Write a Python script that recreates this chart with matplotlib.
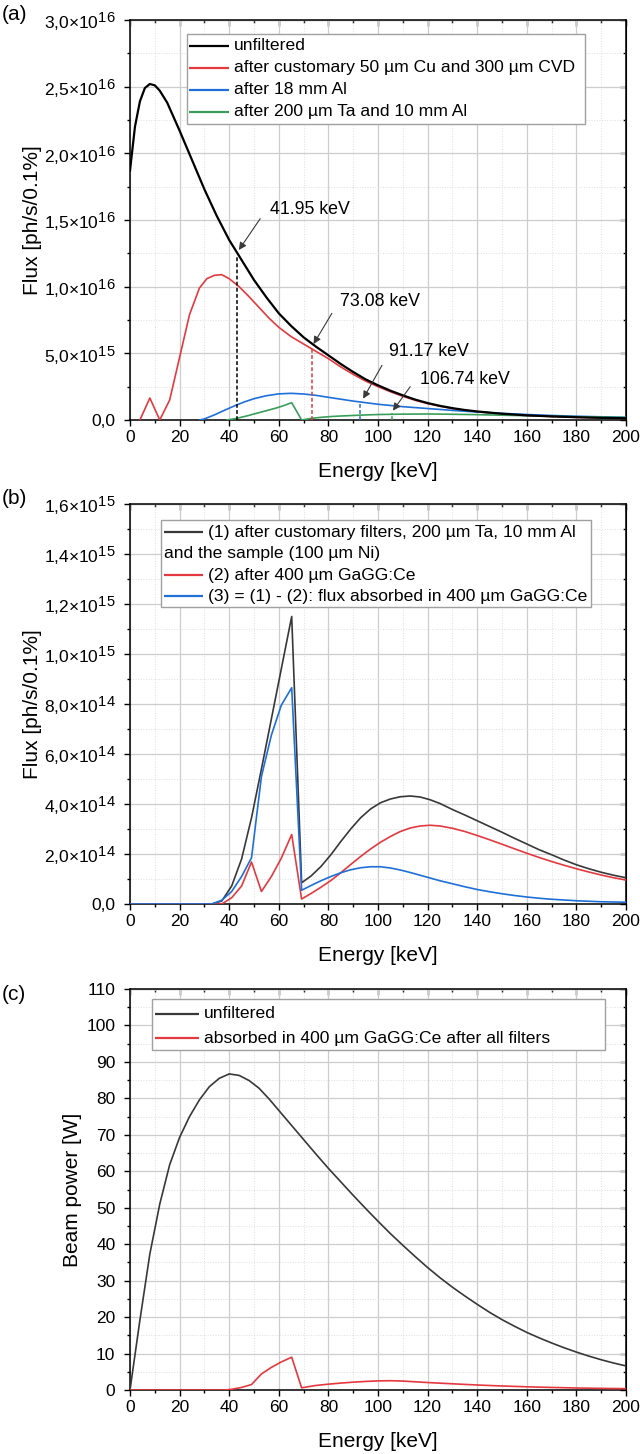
import numpy as np
import matplotlib
matplotlib.use('Agg')
import matplotlib.pyplot as plt
import matplotlib._mathtext as mtext
from matplotlib.ticker import MultipleLocator, FuncFormatter
from matplotlib.patches import Rectangle

plt.rcParams['font.family'] = ['Liberation Sans', 'DejaVu Sans']
plt.rcParams['mathtext.fontset'] = 'custom'
plt.rcParams['mathtext.rm'] = 'Liberation Sans'
plt.rcParams['mathtext.it'] = 'Liberation Sans:italic'
plt.rcParams['mathtext.bf'] = 'Liberation Sans:bold'
# exponents in the reference are drawn nearly at full size
mtext.SHRINK_FACTOR = 0.85

# ---------------- data (a) ----------------
e_unf_a = [0, 2, 4, 6, 8, 10, 12, 15, 20, 25, 30, 35, 40, 45, 50, 55, 60, 65, 70, 75, 80, 85,
           90, 95, 100, 105, 110, 115, 120, 125, 130, 135, 140, 150, 160, 170, 180, 190, 200]
f_unf_a = [18.7, 22.0, 23.9, 24.9, 25.2, 25.1, 24.7, 23.8, 21.7, 19.5, 17.3, 15.3, 13.5, 12.0,
           10.5, 9.2, 8.0, 7.05, 6.2, 5.5, 4.85, 4.2, 3.6, 3.05, 2.6, 2.2, 1.85, 1.53, 1.27,
           1.06, 0.89, 0.75, 0.64, 0.47, 0.35, 0.27, 0.21, 0.16, 0.13]

e_cu_a = [4, 8, 12, 16, 20, 24, 28, 31, 34, 37, 40, 44, 48, 52, 56, 60, 65, 70, 75, 80, 85, 90,
          95, 100, 105, 110, 115, 120, 125, 130, 135, 140, 150, 160, 170, 180, 190, 200]
f_cu_a = [0, 1.65, 0, 1.5, 4.7, 7.9, 9.9, 10.6, 10.85, 10.9, 10.6, 10.0, 9.25, 8.45, 7.65, 6.95,
          6.25, 5.7, 5.15, 4.6, 3.98, 3.42, 2.92, 2.5, 2.12, 1.78, 1.48, 1.23, 1.03, 0.86, 0.73,
          0.62, 0.45, 0.34, 0.26, 0.2, 0.16, 0.12]

e_al_a = [28, 30, 34, 38, 42, 46, 50, 55, 60, 65, 70, 75, 80, 85, 90, 95, 100, 110, 120, 130,
          140, 150, 160, 170, 180, 190, 200]
f_al_a = [0, 0.08, 0.38, 0.72, 1.05, 1.35, 1.6, 1.82, 1.96, 2.0, 1.95, 1.85, 1.7, 1.56, 1.42,
          1.3, 1.18, 1.0, 0.86, 0.72, 0.6, 0.5, 0.41, 0.34, 0.28, 0.24, 0.2]

e_ta_a = [39, 43, 47, 51, 55, 59, 62, 65.2, 69.2, 73, 77, 81, 85, 90, 95, 100, 110, 120, 130,
          140, 150, 160, 170, 180, 190, 200]
f_ta_a = [0, 0.12, 0.3, 0.5, 0.7, 0.9, 1.08, 1.3, 0, 0.12, 0.2, 0.26, 0.3, 0.34, 0.38, 0.41,
          0.44, 0.45, 0.43, 0.4, 0.36, 0.32, 0.28, 0.25, 0.22, 0.19]

edge_x_a = [43.2, 73.3, 92.8, 105.7]
edge_y_a = [12.4, 5.5, 1.35, 0.55]
edge_text_a = ['41.95 keV', '73.08 keV', '91.17 keV', '106.74 keV']
text_pos_a = [(56.5, 15.8), (84.5, 8.9), (104.3, 5.1), (117.0, 3.0)]
arrow_from_a = [(52.5, 15.1), (81.4, 8.0), (101.6, 4.1), (113.0, 2.5)]
arrow_to_a = [(43.9, 12.75), (74.0, 5.7), (94.0, 1.6), (106.0, 0.7)]

# ---------------- data (b) ----------------
e_b = [0, 33, 37, 41, 45, 49, 53, 57, 61, 65.2, 69.2, 73, 77, 81, 85, 89, 93, 97, 101, 105,
       109, 113, 117, 121, 125, 130, 135, 140, 145, 150, 155, 160, 165, 170, 175, 180, 185,
       190, 195, 200]
f_sample_b = [0, 0, 0.12, 0.72, 1.8, 3.45, 5.4, 7.4, 9.4, 11.5, 0.85, 1.12, 1.5, 1.97, 2.5,
              3.0, 3.45, 3.8, 4.05, 4.2, 4.29, 4.32, 4.28, 4.17, 4.02, 3.78, 3.56, 3.33, 3.1,
              2.87, 2.63, 2.4, 2.17, 1.97, 1.76, 1.57, 1.41, 1.27, 1.15, 1.05]
f_gagg_b = [0, 0, 0, 0.25, 0.72, 1.68, 0.5, 1.1, 1.83, 2.78, 0.2, 0.42, 0.67, 0.94, 1.25,
            1.58, 1.9, 2.2, 2.47, 2.7, 2.9, 3.04, 3.12, 3.15, 3.12, 3.03, 2.9, 2.74, 2.57, 2.39,
            2.21, 2.03, 1.86, 1.7, 1.55, 1.41, 1.28, 1.16, 1.05, 0.96]
f_abs_b = [0, 0, 0.15, 0.5, 1.1, 1.85, 5.1, 6.75, 7.95, 8.65, 0.55, 0.74, 0.93, 1.1, 1.25,
           1.37, 1.45, 1.49, 1.49, 1.44, 1.36, 1.26, 1.15, 1.04, 0.93, 0.81, 0.69, 0.58, 0.49,
           0.41, 0.34, 0.28, 0.23, 0.19, 0.16, 0.13, 0.11, 0.09, 0.08, 0.07]

# ---------------- data (c) ----------------
e_unf_c = [0, 4, 8, 12, 16, 20, 24, 28, 32, 36, 40, 44, 48, 52, 56, 60, 65, 70, 75, 80, 85,
           90, 95, 100, 105, 110, 115, 120, 125, 130, 135, 140, 145, 150, 155, 160, 165, 170,
           175, 180, 185, 190, 195, 200]
p_unf_c = [0, 19.2, 37.3, 51.0, 61.8, 69.3, 75.0, 79.6, 83.2, 85.5, 86.7, 86.3, 84.9, 82.8,
           79.9, 76.7, 72.7, 68.7, 64.7, 60.8, 57.1, 53.4, 49.8, 46.3, 42.9, 39.7, 36.6, 33.6,
           30.8, 28.2, 25.8, 23.5, 21.3, 19.3, 17.5, 15.8, 14.3, 12.9, 11.6, 10.4, 9.3, 8.3,
           7.4, 6.6]

e_abs_c = [0, 38, 41, 45, 49, 53, 57, 61, 65.2, 69.2, 75, 80, 85, 90, 95, 100, 105, 110, 120,
           130, 140, 150, 160, 170, 180, 190, 200]
p_abs_c = [0, 0, 0.2, 0.7, 1.5, 4.4, 6.2, 7.7, 9.0, 0.6, 1.25, 1.6, 1.9, 2.15, 2.35, 2.5, 2.55,
           2.45, 2.05, 1.7, 1.37, 1.1, 0.88, 0.7, 0.55, 0.45, 0.37]

RED = '#e3393f'
BLUE = '#1f6fd8'
GREEN = '#3a9d5a'
DARK = '#383838'


def sci_fmt(v, pos):
    if abs(v) < 1e-30:
        return '0,0'
    ex = int(np.floor(np.log10(abs(v)) + 1e-9))
    mant = v / 10 ** ex
    return ('%.1f' % mant).replace('.', ',') + '×10$^{%d}$' % ex


def style_axes(ax, ymax, ymaj, ymin, fmt):
    ax.set_xlim(0, 200)
    ax.set_ylim(0, ymax)
    ax.xaxis.set_major_locator(MultipleLocator(20))
    ax.xaxis.set_minor_locator(MultipleLocator(10))
    ax.yaxis.set_major_locator(MultipleLocator(ymaj))
    ax.yaxis.set_minor_locator(MultipleLocator(ymin))
    ax.yaxis.set_major_formatter(fmt)
    ax.grid(which='major', color='#cdcdcd', lw=0.9)
    ax.grid(which='minor', color='#dedede', lw=0.7, ls=':')
    ax.set_axisbelow(True)
    ax.tick_params(which='major', direction='out', length=4.5, width=1, labelsize=12.5, pad=3)
    ax.tick_params(which='minor', direction='out', length=2.5, width=1)
    ax.tick_params(axis='y', which='major', pad=6, labelsize=12.5)
    for s in ax.spines.values():
        s.set_linewidth(1.1)
    top = ax.secondary_xaxis('top')
    top.xaxis.set_major_locator(MultipleLocator(20))
    top.xaxis.set_minor_locator(MultipleLocator(10))
    top.tick_params(which='major', direction='in', length=4.5, width=1, labeltop=False)
    top.tick_params(which='minor', direction='in', length=2.5, width=1)
    right = ax.secondary_yaxis('right')
    right.yaxis.set_major_locator(MultipleLocator(ymaj))
    right.yaxis.set_minor_locator(MultipleLocator(ymin))
    right.tick_params(which='major', direction='in', length=4.5, width=1, labelright=False)
    right.tick_params(which='minor', direction='in', length=2.5, width=1)
    ax.set_xlabel('Energy [keV]', fontsize=15)
    ax.xaxis.set_label_coords(0.5, -0.105)


def draw_legend(ax, box, handle, rows):
    x0, y0, x1, y1 = box
    ax.add_patch(Rectangle((x0, y0), x1 - x0, y1 - y0, transform=ax.transAxes,
                           facecolor='white', edgecolor='#a0a0a0', lw=1.0, zorder=6))
    hx0, hx1, tx = handle
    for y, color, text, xt in rows:
        if color is not None:
            ax.plot([hx0, hx1], [y, y], color=color, lw=1.6, transform=ax.transAxes,
                    zorder=7, solid_capstyle='butt')
        ax.text(xt if xt is not None else tx, y, text, transform=ax.transAxes,
                fontsize=12.6, va='center', ha='left', zorder=7)


fig = plt.figure(figsize=(6.4, 14.54), dpi=100)
L, W = 130 / 640, 496 / 640

# ---------------- panel (a) ----------------
ax1 = fig.add_axes([L, 1 - 420 / 1454, W, 400 / 1454])
sc = 1e15
ax1.plot(e_unf_a, np.array(f_unf_a) * sc, color='black', lw=1.6, zorder=4)
ax1.plot(e_cu_a, np.array(f_cu_a) * sc, color=RED, lw=1.2, zorder=3)
ax1.plot(e_al_a, np.array(f_al_a) * sc, color=BLUE, lw=1.2, zorder=3)
ax1.plot(e_ta_a, np.array(f_ta_a) * sc, color=GREEN, lw=1.2, zorder=3)
for x, y, c in zip(edge_x_a, edge_y_a, ['black', RED, BLUE, GREEN]):
    ax1.vlines(x, 0, y * sc, colors=c, linestyles=(0, (2.5, 1.5)), lw=1.1, zorder=3)
for t, tp, af, at in zip(edge_text_a, text_pos_a, arrow_from_a, arrow_to_a):
    ax1.text(tp[0], tp[1] * sc, t, fontsize=12.8, ha='left', va='center')
    ax1.annotate('', xy=(at[0], at[1] * sc), xytext=(af[0], af[1] * sc),
                 arrowprops=dict(arrowstyle='-|>', color='#3a3a3a', lw=0.8,
                                 mutation_scale=11, shrinkA=0, shrinkB=0), zorder=5)
style_axes(ax1, 3.0e16, 5e15, 2.5e15, FuncFormatter(sci_fmt))
ax1.set_ylabel('Flux [ph/s/0.1%]', fontsize=15)
ax1.yaxis.set_label_coords(-0.178, 0.5)
draw_legend(ax1, (0.114, 0.741, 0.918, 0.966), (0.118, 0.199, 0.210),
            [(0.935, 'black', 'unfiltered', None),
             (0.881, RED, 'after customary 50 µm Cu and 300 µm CVD', None),
             (0.825, BLUE, 'after 18 mm Al', None),
             (0.771, GREEN, 'after 200 µm Ta and 10 mm Al', None)])

# ---------------- panel (b) ----------------
ax2 = fig.add_axes([L, 1 - 904 / 1454, W, 400 / 1454])
sc = 1e14
ax2.plot(e_b, np.array(f_sample_b) * sc, color=DARK, lw=1.2, zorder=3)
ax2.plot(e_b, np.array(f_gagg_b) * sc, color=RED, lw=1.2, zorder=3)
ax2.plot(e_b, np.array(f_abs_b) * sc, color=BLUE, lw=1.2, zorder=3)
style_axes(ax2, 1.6e15, 2e14, 1e14, FuncFormatter(sci_fmt))
ax2.set_ylabel('Flux [ph/s/0.1%]', fontsize=15)
ax2.yaxis.set_label_coords(-0.178, 0.5)
draw_legend(ax2, (0.063, 0.742, 0.929, 0.961), (0.069, 0.147, 0.158),
            [(0.930, DARK, '(1) after customary filters, 200 µm Ta, 10 mm Al', None),
             (0.8775, None, 'and the sample (100 µm Ni)', 0.069),
             (0.8225, RED, '(2) after 400 µm GaGG:Ce', None),
             (0.769, BLUE, '(3) = (1) - (2): flux absorbed in 400 µm GaGG:Ce', None)])

# ---------------- panel (c) ----------------
ax3 = fig.add_axes([L, 1 - 1390 / 1454, W, 401 / 1454])
ax3.plot(e_unf_c, p_unf_c, color=DARK, lw=1.2, zorder=3)
ax3.plot(e_abs_c, p_abs_c, color=RED, lw=1.2, zorder=3)
style_axes(ax3, 110, 10, 5, FuncFormatter(lambda v, p: '%d' % round(v)))
ax3.set_ylabel('Beam power [W]', fontsize=15)
ax3.yaxis.set_label_coords(-0.097, 0.5)
draw_legend(ax3, (0.044, 0.847, 0.958, 0.974), (0.051, 0.139, 0.149),
            [(0.938, DARK, 'unfiltered', None),
             (0.877, RED, 'absorbed in 400 µm GaGG:Ce after all filters', None)])

fig.text(2 / 640, 1 - 15 / 1454, '(a)', fontsize=15, va='center', ha='left')
fig.text(2 / 640, 1 - 499 / 1454, '(b)', fontsize=15, va='center', ha='left')
fig.text(2 / 640, 1 - 994 / 1454, '(c)', fontsize=15, va='center', ha='left')

fig.savefig('out.png', dpi=100)
